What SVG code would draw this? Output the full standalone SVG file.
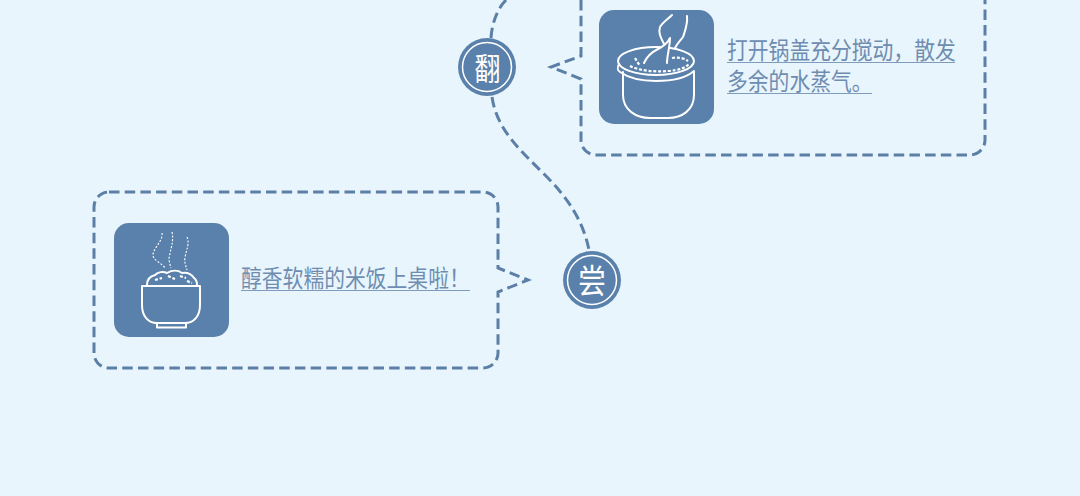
<svg xmlns="http://www.w3.org/2000/svg" width="1080" height="496" viewBox="0 0 1080 496">
<style>
.dash{fill:none;stroke:#5b7fa6;stroke-width:3;stroke-dasharray:10.500 5.200}
.tile{fill:#5a81ab}
.ico{fill:none;stroke:#fff;stroke-width:2;stroke-linejoin:round;stroke-linecap:round}
.thin{fill:none;stroke:#fff;stroke-width:1.1;stroke-dasharray:2 1.6}
.rice{fill:none;stroke:#fff;stroke-width:2.200;stroke-dasharray:3 1.800}
.t{font-family:"Noto Sans CJK SC","Liberation Sans",sans-serif;font-size:20.8px;fill:#6f8db0}
.u{stroke:#7f9cbc;stroke-width:1;fill:none}
.disc{fill:#5a81ab}
.ring{fill:none;stroke:#fff;stroke-width:1.5}
.c{font-family:"Noto Sans CJK SC","Liberation Sans",sans-serif;fill:#fff;text-anchor:middle}
</style>
<rect width="1080" height="496" fill="#e8f5fd"/>
<g id="connectors">
<path class="dash" d="M506 0C498 8 492 22 491 38"/>
<path class="dash" d="M492 97C497 130 520 150 545 175C567 197 583 220 589 250"/>
</g>
<g id="node-fan">
<circle class="disc" cx="487" cy="67" r="29"/>
<circle class="ring" cx="487" cy="67" r="24.500"/>
<text class="c" transform="translate(487.500 79.500) scale(1 1.180)" font-size="26">翻</text>
</g>
<g id="node-taste">
<circle class="disc" cx="592" cy="280" r="29"/>
<circle class="ring" cx="592" cy="280" r="24.500"/>
<text class="c" transform="translate(592 292.500) scale(1 1.170)" font-size="28">尝</text>
</g>
<g id="callout-stir">
<path class="dash" d="M581 0V56L551 67L581 79V140A15 15 0 0 0 596 155H970A15 15 0 0 0 985 140V0"/>
<rect class="tile" x="599" y="10" width="115" height="114" rx="15"/>
<path class="ico" d="M623 72V95C623 110 636 118 650 118H668C682 118 694 110 694 95V72"/>
<ellipse class="ico" cx="656" cy="61" rx="38" ry="14"/>
<path class="ico" d="M619 64C617 68 617 70 620 72C630 79 643 81 656 81C671 81 686 78 694 71"/>
<path class="ico" style="fill:#5a81ab" d="M644 63C647 56 652 52 658 49C664 46 668 42 670 38C670 47 667 55 667 63"/>
<path class="ico" d="M664 44C661 38 658 33 660 27C663 22 668 19 672 15M687 16C688 24 685 31 683 37C680 41 677 44 675 48"/>
<path class="rice" d="M635 58L640 66M630 66C640 71 655 72 668 71C680 70 685 68 689 64M672 58C678 57 684 58 688 61"/>
<text class="t" transform="translate(727 59) scale(1 1.150)">打开锅盖充分搅动，散发</text>
<path class="u" d="M727 62.500H955"/>
<text class="t" transform="translate(727 90) scale(1 1.150)">多余的水蒸气。</text>
<path class="u" d="M727 93.500H872"/>
</g>
<g id="callout-serve">
<path class="dash" d="M109 192H483A15 15 0 0 1 498 207V268L528 280L498 292V353A15 15 0 0 1 483 368H109A15 15 0 0 1 94 353V207A15 15 0 0 1 109 192Z"/>
<rect class="tile" x="114" y="223" width="115" height="114" rx="15"/>
<path class="ico" d="M142 286H200V305C200 316 194 323 185 323H157C148 323 142 316 142 305Z"/>
<path class="ico" d="M157 323V327.500H186V323"/>
<path class="ico" d="M147 285C147 279 151 276 155 275C158 272 163 271 167 273C172 270 178 270 182 273C188 272 192 275 194 278C197 280 197 283 197 285"/>
<path class="rice" d="M155 280L162 278M168 276L175 279M180 276L186 278M187 281L192 283"/>
<path class="thin" d="M162 233C163 241 155 246 153 254C152 260 162 263 165 268"/>
<path class="thin" d="M172 232C174 240 171 248 169 258C169 261 170 265 171 268"/>
<path class="thin" d="M187 237C190 244 186 250 185 258C184 262 186 266 187 270"/>
<text class="t" transform="translate(241 287) scale(1 1.150)">醇香软糯的米饭上桌啦！</text>
<path class="u" d="M241 290.500H470"/>
</g>
</svg>
